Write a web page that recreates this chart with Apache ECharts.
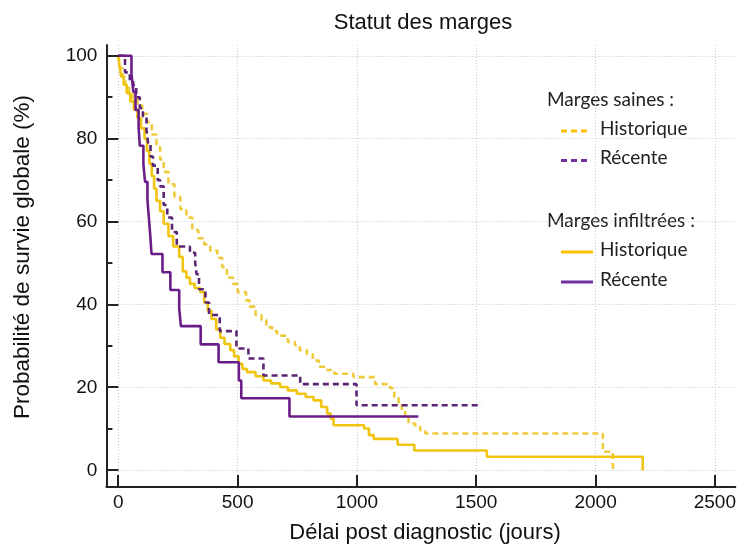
<!DOCTYPE html>
<html>
<head>
<meta charset="utf-8">
<script src="https://cdn.jsdelivr.net/npm/echarts@6/dist/echarts.min.js"></script>
<style>html,body{margin:0;padding:0;background:#fff}#c{width:739px;height:546px}</style>
</head>
<body>
<div id="c"></div>
<script>
// ---- Data (day, survival %) ----
const titleText = "Statut des marges";
const xName = "Délai post diagnostic (jours)";
const yName = "Probabilité de survie globale (%)";
const xTicks = [0, 500, 1000, 1500, 2000, 2500];
const yTicks = [0, 20, 40, 60, 80, 100];

const sainesHistorique = [[0,100],[8,97],[18,95],[30,93],[45,91],[60,89.5],[80,88],[100,86],[120,84],[140,81],[160,78],[175,75],[190,72],[210,69],[235,66],[260,63],[285,61],[310,58],[335,56],[360,54.5],[385,53],[415,51.3],[435,49],[455,46.5],[480,45],[500,43],[535,41],[550,39.5],[575,37.5],[600,36.3],[620,34.5],[645,33.6],[665,32.5],[710,31],[740,30.2],[760,29],[790,28],[815,26.5],[840,25],[875,24.2],[905,23.3],[985,22.5],[1076,20.8],[1139,19.8],[1156,17.7],[1174,16.3],[1188,14.5],[1202,12.8],[1216,11.3],[1244,10.5],[1265,9.7],[1286,8.9],[2030,4.5],[2072,0]];
const sainesRecente = [[0,100],[28,96],[48,94],[62,92.9],[75,90],[90,87.4],[103,85.4],[118,82],[125,79],[135,75.7],[145,73.5],[165,70],[175,68.5],[190,64],[205,61],[225,57.5],[245,54],[300,52.5],[322,50],[328,47.3],[338,43.7],[365,40.5],[380,37.5],[425,33.6],[495,29.4],[545,27],[608,22.9],[762,20.8],[998,15.7],[1523,15.7]];
const infiltreesHistorique = [[0,100],[5,97.5],[12,95],[22,93],[35,91],[50,89],[65,87],[80,85],[95,82.5],[110,80],[120,77],[130,74],[140,71],[150,68],[160,65],[175,62.5],[190,59.5],[210,56.5],[230,54],[255,51.5],[270,48],[285,46.5],[300,45],[320,44],[343,43],[360,40.5],[375,38.5],[390,36.5],[410,34],[427,32],[445,30.5],[469,29],[485,27.5],[504,25.7],[520,24.5],[539,23.7],[575,22.7],[608,21.7],[640,21],[678,20.1],[710,19.3],[748,18.5],[785,17.7],[818,16.9],[850,15.3],[875,13.7],[890,12.5],[902,10.9],[1030,10.1],[1050,8.5],[1070,7.6],[1170,6.2],[1240,4.8],[1544,3.3],[2197,0]];
const infiltreesRecente = [[0,100],[55,95.65],[63,91.3],[72,86.96],[85,82.6],[90,78.3],[105,73.9],[112,69.6],[122,65.2],[128,60.9],[134,56.5],[139,52.2],[185,47.8],[218,43.5],[255,39.1],[262,34.8],[345,30.4],[420,26.1],[505,21.7],[515,17.4],[717,13.0],[1257,13.0]];

const legendGroups = ["Marges saines :", "Marges infiltrées :"];
const legendItems = ["Historique", "Récente"];

// ---- Styles / layout ----
const YEL = '#F1C40F', YEL_D = '#EECB3C', PUR = '#6A1D88', PUR_D = '#5B2574';
const LEG_Y = '#FFC000', LEG_P = '#7030A0';
const AX = '#222';
const FONT = '"Liberation Sans", Arial, sans-serif';
const LFONT = 'Lato, "Open Sans", sans-serif';
const X_MIN = -50, X_MAX = 2585, Y_MIN = -4, Y_MAX = 102.6;
const G = {left: 106.4, right: 3.7, top: 45, bottom: 59};
const W = 739, H = 546;
const gw = W - G.left - G.right, gh = H - G.top - G.bottom;
const px = v => G.left + (v - X_MIN) / (X_MAX - X_MIN) * gw;
const py = v => G.top + (Y_MAX - v) / (Y_MAX - Y_MIN) * gh;
const xTickStep = xTicks[1] - xTicks[0], xTickMax = xTicks[xTicks.length - 1];
const yTickStep = yTicks[1] - yTicks[0], yTickMax = yTicks[yTicks.length - 1];
const GRIDLINE = {show: true, lineStyle: {color: '#c8c8c8', width: 1, type: [1, 2]}};
const TICKSTYLE = {color: AX, width: 2};
const hidden = (gridIndex, min, max) => ({type: 'value', gridIndex, min, max, show: false,
  axisLine: {show: false, onZero: false}, axisTick: {show: false}, axisLabel: {show: false}, splitLine: {show: false}});

const chart = echarts.init(document.getElementById('c'), null, {renderer: 'canvas'});

function ser(name, data, color, dashed, z) {
  return {
    name, type: 'line', step: 'end', data, showSymbol: false, symbol: 'none',
    animation: false, z, xAxisIndex: 0, yAxisIndex: 0,
    lineStyle: {color, width: 2.6, type: dashed ? [6, 4] : 'solid'}
  };
}

const graphics = [
  {type: 'text', x: 23, y: 257, rotation: Math.PI / 2,
    style: {text: yName, font: '22.5px ' + FONT, fill: '#111', textAlign: 'center', textVerticalAlign: 'middle'}},
  {type: 'text', x: 425, y: 533,
    style: {text: xName, font: '22px ' + FONT, fill: '#111', textAlign: 'center', textVerticalAlign: 'middle'}}
];
function legendBlock(y0, header, dashed) {
  graphics.push({type: 'text', left: 547, top: y0 - 12,
    style: {text: header, font: '19px ' + LFONT, fill: '#222'}});
  const cols = [LEG_Y, LEG_P];
  for (let i = 0; i < 2; i++) {
    const yy = y0 + 29 + i * (dashed ? 29.5 : 30);
    graphics.push({type: 'line', shape: {x1: 561, y1: yy, x2: dashed ? 590 : 593, y2: yy},
      style: {stroke: cols[i], lineWidth: 3, lineDash: dashed ? [6, 4] : null}});
    graphics.push({type: 'text', left: 600, top: yy - 12,
      style: {text: legendItems[i], font: '19px ' + LFONT, fill: '#222'}});
  }
}
legendBlock(102, legendGroups[0], true);
legendBlock(223, legendGroups[1], false);

// Major ticks (inside), at the same scale mapping as the data grid
const axX = px(X_MIN), axY = py(Y_MIN);
xTicks.forEach(v => {
  const p = Math.round(px(v));
  graphics.push({type: 'rect', z: 100, shape: {x: p - 1, y: axY - 12, width: 2, height: 12},
    style: {fill: AX}});
});
yTicks.forEach(v => {
  const p = Math.round(py(v));
  graphics.push({type: 'rect', z: 100, shape: {x: axX, y: p - 1, width: 12, height: 2},
    style: {fill: AX}});
});

const yRect = {left: G.left, right: G.right, top: py(yTickMax), bottom: H - py(0)};
const xRect = {left: px(0), right: W - px(xTickMax), top: G.top, bottom: G.bottom};

const option = {
  animation: false,
  backgroundColor: '#fff',
  title: {text: titleText, left: 418, top: 7, textAlign: 'center',
    textStyle: {fontFamily: FONT, fontSize: 22, fontWeight: 'normal', color: '#111'}},
  grid: [
    {left: G.left, right: G.right, top: G.top, bottom: G.bottom}, // 0 data + axis lines
    yRect,     // 1 y labels + minor ticks
    xRect,     // 2 x labels
    yRect,     // 3 horizontal gridlines
    xRect      // 4 vertical gridlines
  ],
  xAxis: [
    {type: 'value', gridIndex: 0, min: X_MIN, max: X_MAX,
      axisLine: {show: true, onZero: false, lineStyle: {color: AX, width: 2}},
      axisTick: {show: false}, axisLabel: {show: false}, splitLine: {show: false}},
    hidden(1, X_MIN, X_MAX),
    {type: 'value', gridIndex: 2, min: 0, max: xTickMax, interval: xTickStep,
      axisLine: {show: false, onZero: false}, axisTick: {show: false},
      axisLabel: {fontFamily: FONT, fontSize: 19, color: '#111', margin: 6, formatter: v => String(v)},
      splitLine: {show: false}},
    hidden(3, X_MIN, X_MAX),
    Object.assign(hidden(4, 0, xTickMax), {show: true, interval: xTickStep, splitLine: GRIDLINE})
  ],
  yAxis: [
    {type: 'value', gridIndex: 0, min: Y_MIN, max: Y_MAX,
      axisLine: {show: true, onZero: false, lineStyle: {color: AX, width: 2}},
      axisTick: {show: false}, axisLabel: {show: false}, splitLine: {show: false}},
    {type: 'value', gridIndex: 1, min: 0, max: yTickMax, interval: yTickStep,
      axisLine: {show: false, onZero: false}, axisTick: {show: false, inside: true},
      minorTick: {show: true, splitNumber: 2, length: 6, lineStyle: TICKSTYLE},
      axisLabel: {fontFamily: FONT, fontSize: 19, color: '#111', margin: 9, formatter: v => String(v)},
      splitLine: {show: false}},
    hidden(2, Y_MIN, Y_MAX),
    Object.assign(hidden(3, 0, yTickMax), {show: true, interval: yTickStep, splitLine: GRIDLINE}),
    hidden(4, Y_MIN, Y_MAX)
  ],
  graphic: graphics,
  series: [
    ser('Saines Historique', sainesHistorique, YEL_D, true, 2),
    ser('Infiltrées Historique', infiltreesHistorique, YEL, false, 3),
    ser('Saines Récente', sainesRecente, PUR_D, true, 4),
    ser('Infiltrées Récente', infiltreesRecente, PUR, false, 5)
  ]
};
chart.setOption(option);
</script>
</body>
</html>
